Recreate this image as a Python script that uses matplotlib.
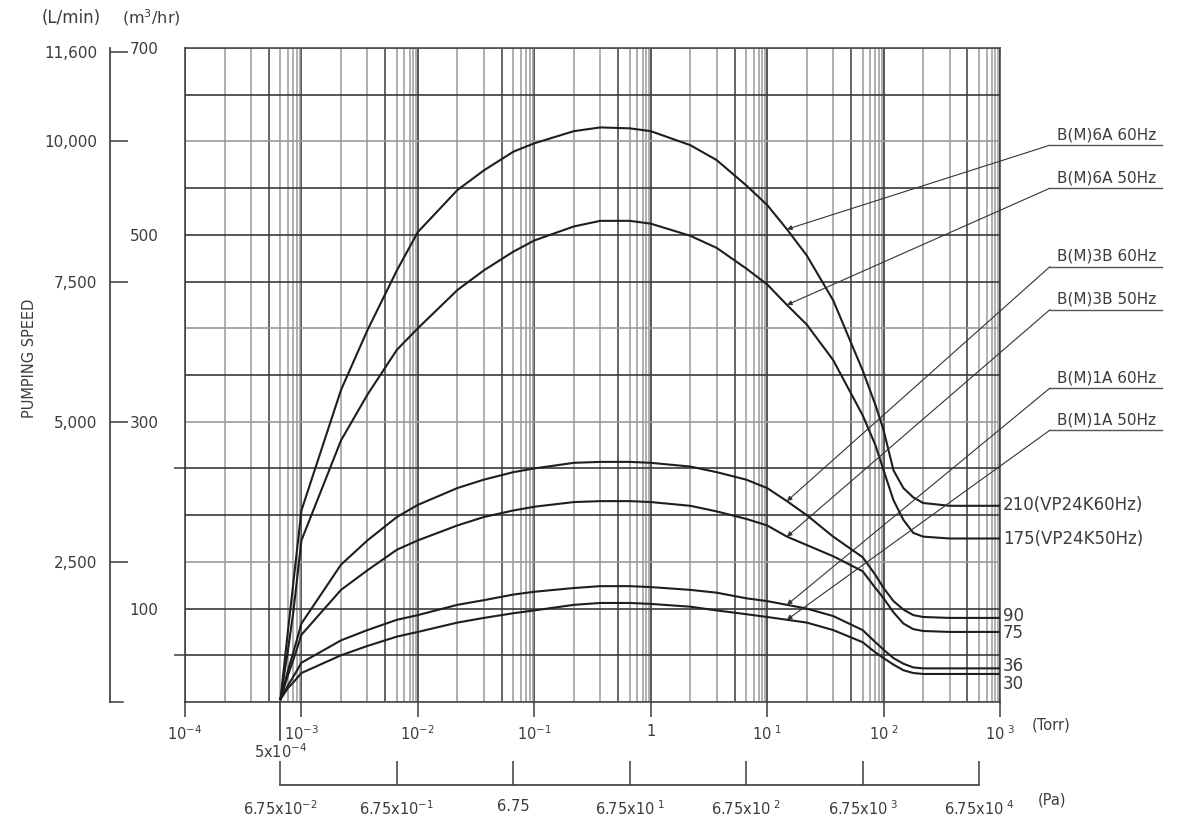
import numpy as np
import matplotlib
matplotlib.use("Agg")
import matplotlib.pyplot as plt
from matplotlib.ticker import FixedLocator, FixedFormatter, NullLocator

plt.rcParams['font.family'] = ['DejaVu Sans']
plt.rcParams['mathtext.default'] = 'regular'

# ---------------- data ----------------
pressure_torr = [5e-4, 6e-4, 7e-4, 1e-3, 2e-3, 3e-3, 5e-3, 1e-2, 2e-2, 3e-2, 5e-2,
                 0.1, 0.2, 0.3, 0.5, 1, 2, 3, 5, 10, 15, 20, 30, 50, 70, 100,
                 125, 150, 175, 200, 300, 1000]

speed_6a_60 = [3, 77, 127, 205, 334, 398, 462, 503, 548, 569, 589, 598, 611, 615, 614, 611,
               596, 580, 553, 532, 506, 478, 430, 355, 318, 291, 248, 229, 219, 213, 210, 210]
speed_6a_50 = [3, 56, 96, 173, 280, 329, 377, 400, 441, 462, 482, 494, 509, 515, 515, 512,
               499, 486, 464, 447, 425, 404, 366, 307, 275, 248, 216, 195, 181, 177, 175, 175]
speed_3b_60 = [3, 34, 53, 84, 147, 173, 198, 211, 229, 238, 246, 250, 256, 257, 257, 256,
               252, 246, 238, 229, 215, 200, 177, 155, 136, 122, 108, 99, 93, 91, 90, 90]
speed_3b_50 = [3, 29, 45, 72, 120, 141, 163, 173, 189, 198, 205, 209, 214, 215, 215, 214,
               210, 204, 196, 189, 177, 168, 156, 140, 122, 111, 96, 84, 78, 76, 75, 75]
speed_1a_60 = [3, 18, 27, 42, 66, 77, 88, 93, 104, 109, 115, 118, 122, 124, 124, 123,
               120, 117, 111, 108, 104, 100, 92, 77, 64, 56, 47, 41, 37, 36, 36, 36]
speed_1a_50 = [3, 15, 21, 31, 50, 60, 70, 75, 85, 90, 95, 98, 104, 106, 106, 105,
               102, 98, 94, 91, 88, 85, 77, 64, 53, 47, 40, 34, 31, 30, 30, 30]

series = [speed_6a_60, speed_6a_50, speed_3b_60, speed_3b_50, speed_1a_60, speed_1a_50]
series_names = ['B(M)6A 60Hz', 'B(M)6A 50Hz', 'B(M)3B 60Hz', 'B(M)3B 50Hz',
                'B(M)1A 60Hz', 'B(M)1A 50Hz']
plateau_labels = ['210(VP24K60Hz)', '175(VP24K50Hz)', '90', '75', '36', '30']

torr_ticks = [1e-4, 1e-3, 1e-2, 1e-1, 1, 10, 100, 1000]
torr_labels = ['$10^{-4}$', '$10^{-3}$', '$10^{-2}$', '$10^{-1}$', '1',
               '$10^{\\ 1}$', '$10^{\\ 2}$', '$10^{\\ 3}$']
pa_ticks = [6.75e-2, 6.75e-1, 6.75, 6.75e1, 6.75e2, 6.75e3, 6.75e4]
pa_labels = ['6.75x$10^{-2}$', '6.75x$10^{-1}$', '6.75', '6.75x$10^{\\ 1}$',
             '6.75x$10^{\\ 2}$', '6.75x$10^{\\ 3}$', '6.75x$10^{\\ 4}$']
pa_per_torr = 135.0
m3h_ticks = [100, 300, 500, 700]
lmin_ticks = [2500, 5000, 7500, 10000, 11600]
lmin_labels = ['2,500', '5,000', '7,500', '10,000', '11,600']
start_pressure = 5e-4
arrow_pressure = 15

# ---------------- the drawn (non-uniform) logarithmic scale ----------------
M_KNOTS = np.array([1, 2, 3, 4, 5, 6, 7, 8, 9, 10], float)
F_KNOTS = np.array([0, .34, .567, .72, .82, .885, .93, .96, .985, 1.0])


def fwd(t):
    t = np.asarray(t, float)
    with np.errstate(divide='ignore', invalid='ignore'):
        lt = np.log10(np.where(t > 0, t, np.nan))
        n = np.floor(lt + 1e-9)
        m = t / 10.0 ** n
        return n + np.interp(m, M_KNOTS, F_KNOTS)


def inv(s):
    s = np.asarray(s, float)
    n = np.floor(s + 1e-9)
    fr = np.clip(s - n, 0, 1)
    return np.interp(fr, F_KNOTS, M_KNOTS) * 10.0 ** n


DARK = '#3a3a3a'
GRAY = '#9a9a9a'
TXT = '#3c3c3c'

W, H = 1196, 836
fig = plt.figure(figsize=(W / 100, H / 100), dpi=100)
ax = fig.add_axes([185 / W, 134 / H, 815 / W, 654 / H])
ax.set_xscale('function', functions=(fwd, inv))
ax.set_xlim(1e-4, 1e3)
ax.set_ylim(0, 700)

# grid lines
minor_vals = [m * 10.0 ** e for e in range(-4, 3) for m in range(2, 10)]
for v in torr_ticks:
    ax.axvline(v, color=DARK, lw=1.2, zorder=1)
for v in minor_vals:
    m = round(v / 10.0 ** np.floor(np.log10(v) + 1e-9))
    ax.axvline(v, color=DARK if m in (4,) else GRAY, lw=1.1, zorder=1)
dark_levels = [50, 100, 200, 250, 350, 450, 500, 550, 650]
for q in range(0, 701, 50):
    ax.axhline(q, color=DARK if q in dark_levels else GRAY, lw=1.2, zorder=1)

for sp in ax.spines.values():
    sp.set_color(DARK)
    sp.set_linewidth(1.1)

# curves
for s in series:
    ax.plot(pressure_torr, s, color='#1e1e1e', lw=1.5, zorder=3, solid_joinstyle='round')

# x ticks (Torr)
ax.xaxis.set_major_locator(FixedLocator(torr_ticks))
ax.xaxis.set_major_formatter(FixedFormatter(torr_labels))
ax.xaxis.set_minor_locator(NullLocator())
ax.tick_params(axis='x', which='major', direction='out', length=11, width=1.1,
               color=DARK, labelsize=10.5, labelcolor=TXT, pad=5)
ax.annotate('(Torr)', xy=(1.0, 0), xycoords='axes fraction', xytext=(32, -23),
            textcoords='offset pixels', fontsize=10.5, color=TXT, ha='left', va='center',
            annotation_clip=False)

# 5x10^-4 marker
ax.plot([start_pressure, start_pressure], [0, -0.058], transform=ax.get_xaxis_transform(),
        color=DARK, lw=1.2, clip_on=False)
ax.text(start_pressure, -0.061, '5x$10^{-4}$', transform=ax.get_xaxis_transform(),
        ha='center', va='top', fontsize=10.5, color=TXT)

# y ticks (m3/hr)
ax.yaxis.set_major_locator(FixedLocator(m3h_ticks))
ax.yaxis.set_major_formatter(FixedFormatter([str(v) for v in m3h_ticks]))
ax.yaxis.set_minor_locator(FixedLocator([50, 250, 700]))
ax.tick_params(axis='y', which='major', length=0, pad=19, labelsize=11, labelcolor=TXT)
ax.tick_params(axis='y', which='minor', direction='out', length=8, width=1.1, color=DARK)

# L/min axis
sec = ax.secondary_yaxis(-75 / 815, functions=(lambda q: q * 1000 / 60, lambda l: l * 60 / 1000))
sec.set_yticks(lmin_ticks)
sec.set_yticklabels(lmin_labels)
sec.tick_params(direction='in', length=13, width=1.1, color=DARK, labelsize=11,
                labelcolor=TXT, pad=9)
sec.spines['left'].set_color(DARK)
sec.spines['left'].set_linewidth(1.2)
ax.plot([-75 / 815, -62 / 815], [0, 0], transform=ax.get_yaxis_transform(), color=DARK,
        lw=1.1, clip_on=False)

fig.text(71 / W, 1 - 18 / H, '(L/min)', ha='center', va='center', fontsize=12, color=TXT)
fig.text(151 / W, 1 - 18 / H, '(m$^3$/hr)', ha='center', va='center', fontsize=11.5, color=TXT)
fig.text(30 / W, 1 - 358 / H, 'PUMPING SPEED', rotation=90, ha='center', va='center',
         fontsize=10.5, color=TXT)

# plateau value labels (offsets in pixels, up = positive)
plateau_offsets = [1, 0, 2, -1, 2, -10]
for s, lab, off in zip(series, plateau_labels, plateau_offsets):
    ax.annotate(lab, xy=(1.0, s[-1]), xycoords=ax.get_yaxis_transform(),
                xytext=(3, off), textcoords='offset pixels',
                ha='left', va='center', fontsize=12, color=TXT, annotation_clip=False)

# model labels with leader lines
label_levels = [596, 550, 466, 420, 336, 291]
x0 = 865 / 815
x1 = 977 / 815
idx = pressure_torr.index(arrow_pressure)
for s, name, lv in zip(series, series_names, label_levels):
    ax.annotate('', xy=(arrow_pressure, s[idx]), xycoords='data',
                xytext=(x0, lv), textcoords=ax.get_yaxis_transform(),
                arrowprops=dict(arrowstyle='-|>', color='#333333', lw=0.8,
                                mutation_scale=7, shrinkA=0, shrinkB=0),
                annotation_clip=False, zorder=4)
    ax.plot([x0, x1], [lv, lv], transform=ax.get_yaxis_transform(), color='#555555',
            lw=1.0, clip_on=False)
    ax.text(x0 + 7 / 815, lv + 3, name, transform=ax.get_yaxis_transform(),
            ha='left', va='bottom', fontsize=11, color=TXT)

# Pa axis (own axes with the same drawn scale, positions = Pa / pa_per_torr)
pa_ax = fig.add_axes([185 / W, (H - 785) / H, 815 / W, 1e-4])
pa_ax.set_xscale('function', functions=(fwd, inv))
pa_ax.set_xlim(1e-4, 1e3)
pa_ax.set_facecolor('none')
for k in ('left', 'right', 'top'):
    pa_ax.spines[k].set_visible(False)
pa_pos = [p / pa_per_torr for p in pa_ticks]
pa_ax.spines['bottom'].set_bounds(pa_pos[0], pa_pos[-1])
pa_ax.spines['bottom'].set_color(DARK)
pa_ax.spines['bottom'].set_linewidth(1.2)
pa_ax.set_yticks([])
pa_ax.xaxis.set_major_locator(FixedLocator(pa_pos))
pa_ax.xaxis.set_major_formatter(FixedFormatter(pa_labels))
pa_ax.xaxis.set_minor_locator(NullLocator())
pa_ax.tick_params(axis='x', which='major', direction='in', length=17, width=1.1,
                  color=DARK, labelsize=10.5, labelcolor=TXT, pad=10)
fig.text(1038 / W, 1 - 800 / H, '(Pa)', fontsize=10.5, color=TXT, ha='left', va='center')

fig.savefig('out.png', dpi=100, facecolor='white')
